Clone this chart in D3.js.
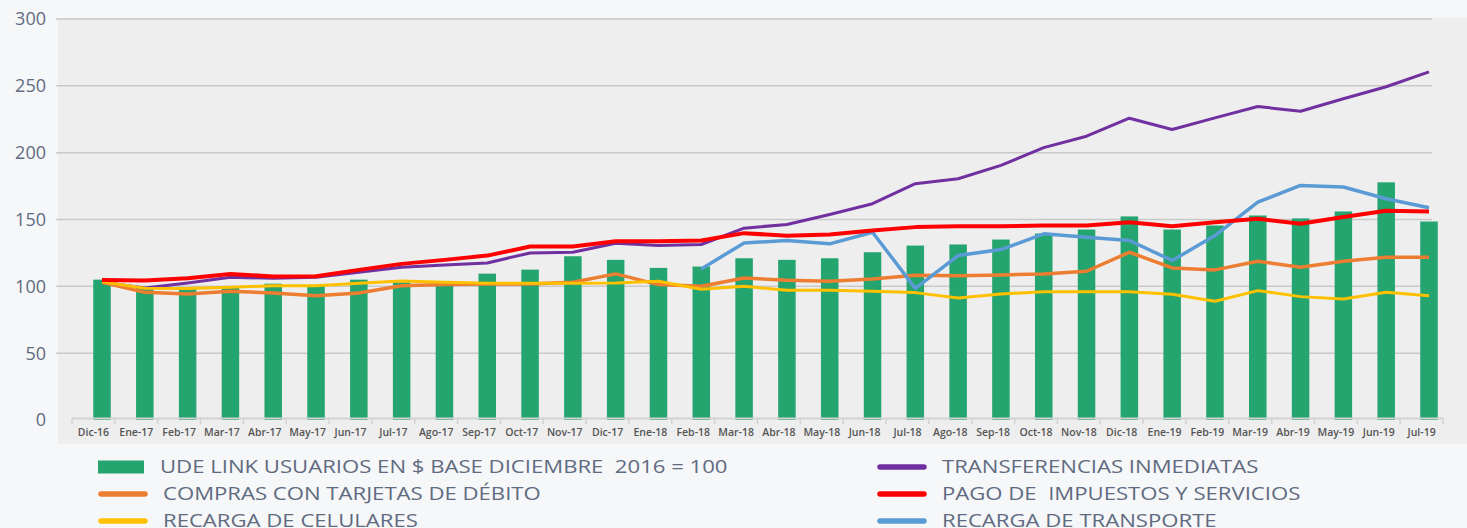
<!DOCTYPE html>
<html><head><meta charset="utf-8">
<script src="https://cdn.jsdelivr.net/npm/d3@7"></script>
<style>
html,body{margin:0;padding:0;background:#f6f7f9;}
svg{display:block;}
text{white-space:pre;}
</style></head>
<body><svg id="c" width="1467" height="528"></svg>
<script>
const categories = ["Dic-16","Ene-17","Feb-17","Mar-17","Abr-17","May-17","Jun-17","Jul-17","Ago-17","Sep-17","Oct-17","Nov-17","Dic-17","Ene-18","Feb-18","Mar-18","Abr-18","May-18","Jun-18","Jul-18","Ago-18","Sep-18","Oct-18","Nov-18","Dic-18","Ene-19","Feb-19","Mar-19","Abr-19","May-19","Jun-19","Jul-19"];
const udeLink = [105,99,98,100,102,101,105,103,103,109.5,112.5,122.5,119.8,113.8,114.8,121,119.8,121,125.5,130.5,131.3,135,139.5,142.5,152.3,142.5,145.5,153,150.8,156,177.8,148.5];
const transferencias = [103,98.8,102.5,106.8,106,106.8,110.5,114.3,116,117.5,125,125.5,132.3,130.5,131.3,143.5,146.3,153.8,161.8,176.8,180.5,190.5,203.8,212.3,225.8,217.3,226,234.5,231,240.3,249.3,260.5];
const pagoImpuestos = [104.8,104.3,106,109.3,107.3,107.5,112.3,116.8,119.8,123,129.8,129.8,133.8,133.8,134.3,139.8,137.8,138.8,141.8,144.3,145,145,145.5,145.5,148,145,148,150.5,146.8,151.8,156.5,156];
const comprasDebito = [103,95.5,94.3,96.3,95,93,95,100.5,101.3,101.8,101.8,103,109.3,101.3,100,106.3,104.5,103.8,105.5,108.3,108,108.5,109.3,111.3,125.5,113.8,112.3,118.8,114.3,118.8,121.8,121.8];
const recargaCelulares = [103.5,98.5,98.3,99.3,100.5,100.5,102.3,104,103,102.3,102.3,102.3,102.5,103.8,97.8,100,97,97,96.3,95.3,91.3,94.3,96,96,96,94,88.8,96.8,92.3,90.5,95.5,93];
const recargaTransporte = [null,null,null,null,null,null,null,null,null,null,null,null,null,null,113,132.5,134.3,131.8,140.5,98.5,123,127.5,139.3,136.8,134.3,119.3,138,163,175.5,174.3,165.5,158.8];
const yTicks = [0,50,100,150,200,250,300];

const legendLabels = ["UDE LINK USUARIOS EN $ BASE DICIEMBRE  2016 = 100","COMPRAS CON TARJETAS DE DÉBITO","RECARGA DE CELULARES","TRANSFERENCIAS INMEDIATAS","PAGO DE  IMPUESTOS Y SERVICIOS","RECARGA DE TRANSPORTE"];

const svg = d3.select("#c");
const font = "'Open Sans', 'DejaVu Sans', sans-serif";
const textCol = "#5f6b80";

// plot background
svg.append("rect").attr("x",58).attr("y",18).attr("width",1467-58).attr("height",444-18).attr("fill","#eeeeee");

const y = d3.scaleLinear().domain([0,300]).range([420,19]);
const xAxisScale = d3.scaleBand().domain(categories).range([72,1443]).padding(0);
const xMark = d3.scalePoint().domain(categories).range([102,1429]);

// grid lines
svg.append("g").selectAll("line").data(yTicks.filter(d=>d>0)).join("line")
  .attr("x1",56).attr("x2",1432).attr("y1",d=>y(d)).attr("y2",d=>y(d))
  .attr("stroke","#c9c9c9").attr("stroke-width",1.5);

// y labels
svg.append("g").selectAll("text").data(yTicks).join("text")
  .attr("x",46).attr("y",d=>y(d)).attr("dy","0.36em").attr("text-anchor","end")
  .attr("font-family",font).attr("font-size",18).attr("fill",textCol).text(d=>d);

// bars
const bw = 17.5;
svg.append("g").selectAll("rect").data(udeLink).join("rect")
  .attr("x",(d,i)=>xMark(categories[i])-bw/2).attr("width",bw)
  .attr("y",d=>y(d)).attr("height",d=>y(0)-y(d))
  .attr("fill","#24a46e");

// x axis
const xAxis = d3.axisBottom(xAxisScale).tickSize(0).tickPadding(11);
const gx = svg.append("g").attr("transform","translate(0,418)").call(xAxis);
gx.select(".domain").attr("stroke","#d2d2d2").attr("stroke-width",2);
gx.selectAll("text").attr("font-family",font).attr("font-size",10.5).attr("fill","#555").attr("font-weight",600);
// tick separators
const edges = xAxisScale.domain().map(d=>xAxisScale(d)).concat([xAxisScale.range()[1]]);
svg.append("g").selectAll("line").data(edges).join("line")
  .attr("x1",d=>d).attr("x2",d=>d)
  .attr("y1",418).attr("y2",424).attr("stroke","#d2d2d2").attr("stroke-width",1.5);

// lines
const line = d3.line().defined(d=>d!=null).x((d,i)=>xMark(categories[i])).y(d=>y(d));
const series = [
  {data:transferencias,color:"#7030a0",w:3},
  {data:comprasDebito,color:"#ed7d31",w:3.5},
  {data:recargaCelulares,color:"#ffc000",w:3},
  {data:recargaTransporte,color:"#5b9bd5",w:3.5},
  {data:pagoImpuestos,color:"#ff0000",w:4}
];
series.forEach(s=>{
  svg.append("path").datum(s.data).attr("d",line).attr("fill","none")
    .attr("stroke",s.color).attr("stroke-width",s.w).attr("stroke-linejoin","round");
});

// legend
const legendItems = [
  {label:legendLabels[0],type:"bar",color:"#24a46e",x:98,y:467},
  {label:legendLabels[1],type:"line",color:"#ed7d31",x:98,y:494},
  {label:legendLabels[2],type:"line",color:"#ffc000",x:98,y:521},
  {label:legendLabels[3],type:"line",color:"#7030a0",x:877,y:467},
  {label:legendLabels[4],type:"line",color:"#ff0000",x:877,y:494},
  {label:legendLabels[5],type:"line",color:"#5b9bd5",x:877,y:521}
];
const lg = svg.append("g").selectAll("g").data(legendItems).join("g")
  .attr("transform",d=>`translate(${d.x},${d.y})`);
lg.filter(d=>d.type==="bar").append("rect").attr("x",0).attr("y",-6.5).attr("width",46).attr("height",13).attr("fill",d=>d.color);
lg.filter(d=>d.type==="line").append("line").attr("x1",3).attr("x2",47).attr("y1",0).attr("y2",0)
  .attr("stroke",d=>d.color).attr("stroke-width",5.5).attr("stroke-linecap","round");
const lt = lg.append("g").attr("transform",d=>`translate(${d.type==="bar"?62:65},0)`)
  .append("text").attr("x",0).attr("y",0).attr("dy","0.36em")
  .attr("font-family",font).attr("font-size",18).attr("fill",textCol).text(d=>d.label);
// horizontally stretch legend text to the reference's wide typeface
const w0 = lt.nodes()[0].getComputedTextLength();
const k = 568 / w0;
lt.attr("transform",`scale(${k},1)`);
</script></body></html>
